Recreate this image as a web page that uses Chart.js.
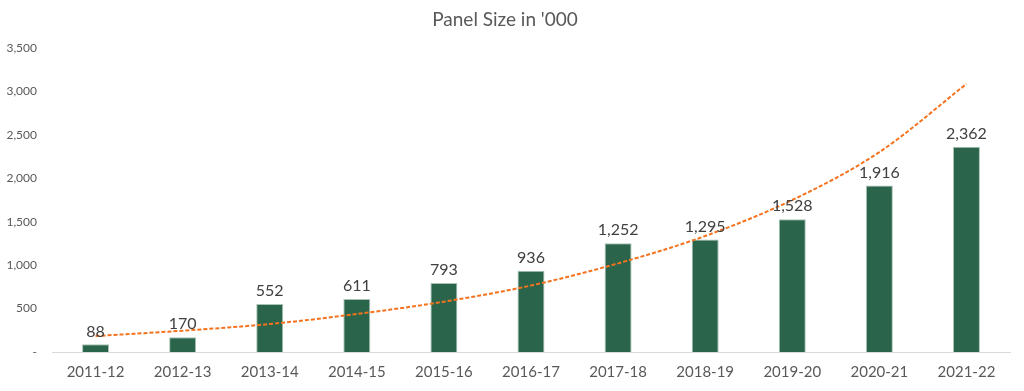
<!DOCTYPE html>
<html>
<head>
<meta charset="utf-8">
<script src="https://cdn.jsdelivr.net/npm/chart.js@4"></script>
<style>
  html, body { margin: 0; padding: 0; background: #fff; }
  #wrap { width: 1024px; height: 391px; }
</style>
</head>
<body>
<div id="wrap"><canvas id="panel-chart" width="1024" height="391"></canvas></div>
<script>
const years = ['2011-12', '2012-13', '2013-14', '2014-15', '2015-16', '2016-17', '2017-18', '2018-19', '2019-20', '2020-21', '2021-22'];
const panelSize = [88, 170, 552, 611, 793, 936, 1252, 1295, 1528, 1916, 2362];
// trend line (excel exponential trendline)
const trendVals = [184, 245, 322, 437, 579, 765, 1020, 1335, 1749, 2300, 3084];
const yTicks = [0, 500, 1000, 1500, 2000, 2500, 3000, 3500];

const fontFam = 'Lato, "Open Sans", sans-serif';

// подписи над столбиками
const barLabels = {
  id: 'barLabels',
  afterDatasetsDraw(chart) {
    const { ctx } = chart;
    const meta = chart.getDatasetMeta(1);
    ctx.save();
    ctx.font = '16px ' + fontFam;
    ctx.fillStyle = '#404040';
    ctx.textAlign = 'center';
    ctx.textBaseline = 'bottom';
    meta.data.forEach((bar, i) => {
      ctx.fillText(panelSize[i].toLocaleString('en-US'), bar.x, bar.y - 5);
    });
    ctx.restore();
  }
};

const config = {
  data: {
    labels: years,
    datasets: [
      {
        type: 'line',
        label: 'Trend',
        data: trendVals,
        borderColor: '#F4731F',
        borderWidth: 2,
        borderDash: [4, 2],
        pointRadius: 0,
        cubicInterpolationMode: 'monotone',
        fill: false,
        order: 0
      },
      {
        type: 'bar',
        label: 'Panel Size',
        data: panelSize,
        backgroundColor: '#2A654B',
        borderColor: '#A9C4B6',
        borderWidth: 1,
        categoryPercentage: 1,
        barPercentage: 0.31,
        order: 1
      }
    ]
  },
  options: {
    responsive: false,
    animation: false,
    layout: { padding: { left: 0, right: 14, bottom: 0, top: 0 } },
    plugins: {
      legend: { display: false },
      tooltip: { enabled: false },
      title: {
        display: true,
        text: "Panel Size in '000",
        color: '#595959',
        font: { family: fontFam, size: 19, weight: 'normal' },
        padding: { top: 8, bottom: 17 }
      }
    },
    scales: {
      x: {
        grid: { display: false, drawTicks: false },
        border: { color: '#D9D9D9', width: 1 },
        ticks: {
          color: '#595959',
          font: { family: fontFam, size: 15 },
          padding: 11,
          maxRotation: 0
        },
        afterFit(axis) { axis.height = 39; }
      },
      y: {
        min: 0,
        max: 3500,
        grid: { display: false, drawTicks: false },
        border: { display: false },
        afterBuildTicks(axis) { axis.ticks = yTicks.map(v => ({ value: v })); },
        afterFit(axis) { axis.width = 52; },
        ticks: {
          color: '#595959',
          font: { family: fontFam, size: 12 },
          padding: 15,
          callback: v => v === 0 ? '-' : v.toLocaleString('en-US')
        }
      }
    }
  },
  plugins: [barLabels]
};

const myChart = new Chart(document.getElementById('panel-chart'), config);
</script>
</body>
</html>
